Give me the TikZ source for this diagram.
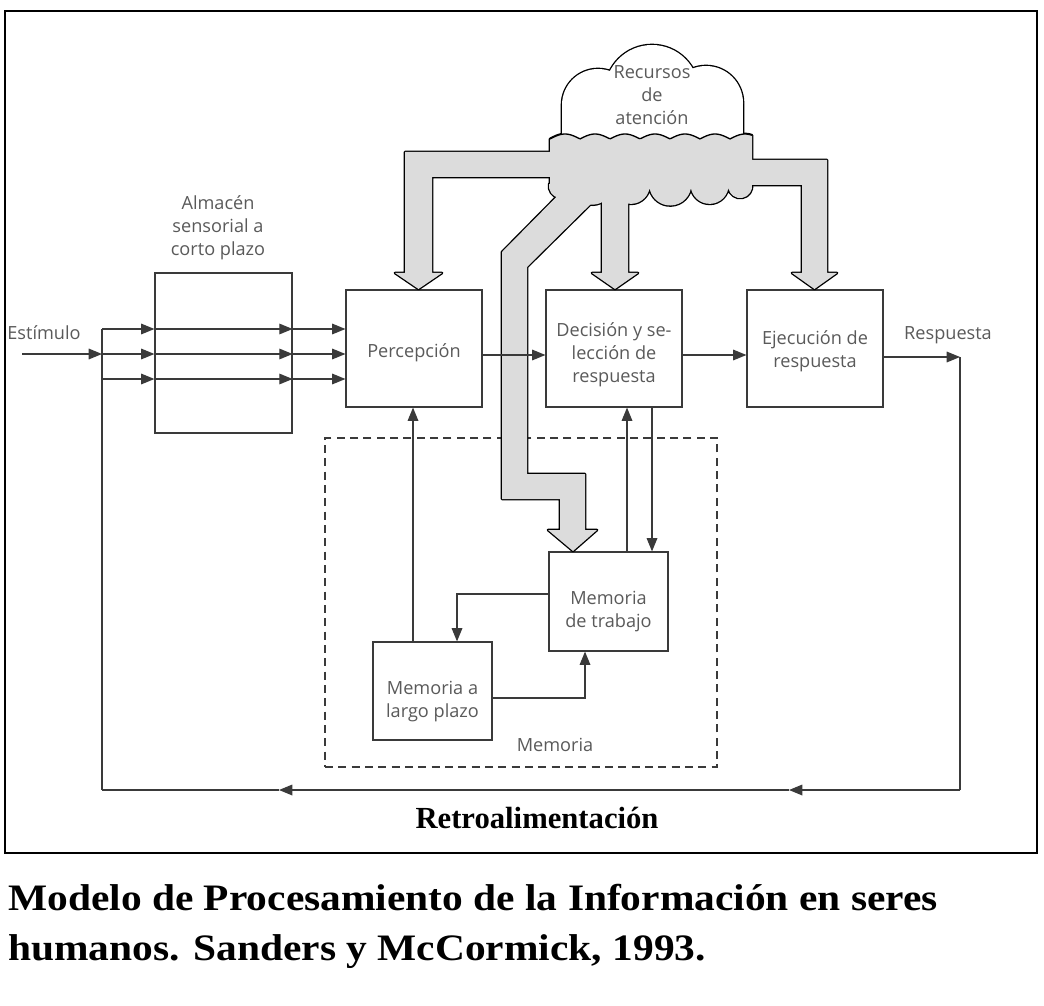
\documentclass[tikz,border=0pt]{standalone}
\usepackage{fontspec}
\setmainfont{Liberation Serif}
\newfontfamily\diagfont{Open Sans}
\usetikzlibrary{arrows.meta,calc}
\definecolor{ink}{HTML}{3A3A3A}
\definecolor{txt}{HTML}{5A5A5A}
\definecolor{bandgrey}{HTML}{DCDCDC}
\begin{document}
\begin{tikzpicture}[x=0.75pt,y=-0.75pt,
  box/.style={draw=ink, line width=0.9pt, inner sep=0pt},
  lbl/.style={align=center, inner sep=0pt, font=\diagfont\fontsize{13.6}{17.4}\selectfont, text=txt},
  conn/.style={draw=ink, line width=0.9pt},
  arr/.style={conn, -{Triangle[length=10pt,width=8pt]}},
  outl/.style={draw=black, line width=2pt, line join=round},
]
\useasboundingbox (0,0) rectangle (1044,1005);
\fill[white] (0,0) rectangle (1044,1005);
\draw[line width=1.6pt] (5,11) rectangle (1037,853);

% boxes
\node[box, minimum width={137*0.75pt}, minimum height={160*0.75pt}] (sens) at (223.5,353) {};
\node[box, minimum width={136*0.75pt}, minimum height={117*0.75pt}] (perc) at (414,348.5) {};
\node[box, minimum width={136*0.75pt}, minimum height={117*0.75pt}] (dec) at (614,348.5) {};
\node[box, minimum width={136*0.75pt}, minimum height={117*0.75pt}] (exe) at (815,348.5) {};
\node[box, minimum width={119*0.75pt}, minimum height={99*0.75pt}] (wm) at (608.5,601.5) {};
\node[box, minimum width={119*0.75pt}, minimum height={98*0.75pt}] (ltm) at (432.5,691) {};
\node[draw=ink, dashed, dash pattern=on 6pt off 4pt, line width=0.8pt, inner sep=0pt,
  minimum width={392*0.75pt}, minimum height={329*0.75pt}] (mem) at (521,602.5) {};

% ---- cloud and thick arrows ----
% pass 1: outlines
\path[outl] (598,105) circle[radius=36] (652,92) circle[radius=47] (706,103) circle[radius=37]
  (562,105) rectangle (743,140);
\path[outl] (550,184) -- plot[domain=550:752,samples=121] (\x,{139-5*abs(sin(6*(\x-550)))}) -- (752,184)
  arc[start angle=-10,end angle=170,radius=12] arc[start angle=10,end angle=170,radius=19]
  arc[start angle=10,end angle=170,radius=21] arc[start angle=10,end angle=170,radius=19]
  arc[start angle=10,end angle=170,radius=20] arc[start angle=10,end angle=190,radius=12] -- cycle;
\path[outl] (580,152) -- (405,152) -- (405,273) -- (395,273) -- (418.5,289) -- (442,273) -- (432,273) -- (432,177) -- (580,177) -- cycle;
\path[outl] (602,180) -- (602,273) -- (592,273) -- (615,289) -- (638,273) -- (628,273) -- (628,180) -- cycle;
\path[outl] (740,160) -- (827,160) -- (827,273) -- (837,273) -- (814.5,289) -- (792,273) -- (802,273) -- (802,185) -- (740,185) -- cycle;
\path[outl] (580,173) -- (502,252) -- (502,499) -- (560,499) -- (560,530) -- (548,530) -- (573,551) -- (597,530) -- (585,530) -- (585,474) -- (527,474) -- (527,267) -- (605,190) -- cycle;
% pass 2: white top
\fill[white] (598,105) circle[radius=36];
\fill[white] (652,92) circle[radius=47];
\fill[white] (706,103) circle[radius=37];
\fill[white] (562,105) rectangle (743,140);
% pass 3: grey part
\fill[bandgrey] (550,184) -- plot[domain=550:752,samples=121] (\x,{139-5*abs(sin(6*(\x-550)))}) -- (752,184)
  arc[start angle=-10,end angle=170,radius=12] arc[start angle=10,end angle=170,radius=19]
  arc[start angle=10,end angle=170,radius=21] arc[start angle=10,end angle=170,radius=19]
  arc[start angle=10,end angle=170,radius=20] arc[start angle=10,end angle=190,radius=12] -- cycle;
\fill[bandgrey] (580,152) -- (405,152) -- (405,273) -- (395,273) -- (418.5,289) -- (442,273) -- (432,273) -- (432,177) -- (580,177) -- cycle;
\fill[bandgrey] (602,180) -- (602,273) -- (592,273) -- (615,289) -- (638,273) -- (628,273) -- (628,180) -- cycle;
\fill[bandgrey] (740,160) -- (827,160) -- (827,273) -- (837,273) -- (814.5,289) -- (792,273) -- (802,273) -- (802,185) -- (740,185) -- cycle;
\fill[bandgrey] (580,173) -- (502,252) -- (502,499) -- (560,499) -- (560,530) -- (548,530) -- (573,551) -- (597,530) -- (585,530) -- (585,474) -- (527,474) -- (527,267) -- (605,190) -- cycle;
% pass 4: scalloped boundary
\draw[black, line width=1pt] plot[domain=550:752,samples=121] (\x,{139-5*abs(sin(6*(\x-550)))});
\node[lbl] (cloud) at (652,95) {Recursos\\de\\atención};

% ---- box texts ----
\node[lbl] (perct) at ($(perc.center)+(0,4.5)$) {Percepción};
\node[lbl] (dect) at ($(dec.center)+(0,6.5)$) {Decisión y se-\\lección de\\respuesta};
\node[lbl] (exet) at ($(exe.center)+(0,3)$) {Ejecución de\\respuesta};
\node[lbl] (wmt) at ($(wm.center)+(0,10)$) {Memoria\\de trabajo};
\node[lbl] (ltmt) at ($(ltm.center)+(0,10.5)$) {Memoria a\\largo plazo};

% ---- coordinates ----
\coordinate (stim) at (22,354);
\coordinate (split) at (102,354);
\coordinate (splitT) at (102,329);
\coordinate (resp) at (960,357);
\coordinate (fbR) at (960,790);
\coordinate (fbA) at (789,790);
\coordinate (fbB) at (279,790);
\coordinate (fbL) at (102,790);

% ---- thin connectors ----
\draw[arr] (stim) -- (split);
\draw[conn] (splitT) -- (fbL);
\foreach \yy in {329,354,379}{
  \draw[arr] (102,\yy) -- (sens.west |- 0,\yy);
  \draw[arr] (sens.west |- 0,\yy) -- (sens.east |- 0,\yy);
  \draw[arr] (sens.east |- 0,\yy) -- (perc.west |- 0,\yy);
}
\draw[arr] (perc.east |- 0,355) -- (dec.west |- 0,355);
\draw[arr] (dec.east |- 0,355) -- (exe.west |- 0,355);
\draw[arr] (exe.east |- resp) -- (resp);
\draw[conn] (resp) -- (fbR);
\draw[arr] (fbR) -- (fbA);
\draw[arr] (fbA) -- (fbB);
\draw[conn] (fbB) -- (fbL);

\draw[arr] (ltm.north -| 413,0) -- (perc.south -| 413,0);
\draw[arr] (wm.north -| 627,0) -- (dec.south -| 627,0);
\draw[arr] (dec.south -| 652,0) -- (wm.north -| 652,0);
\draw[arr] (wm.west |- 0,594) -| (ltm.north -| 457,0);
\draw[arr] (ltm.east |- 0,698) -| (wm.south -| 585,0);

% ---- labels ----
\node[lbl] (senslbl) at (218,228) {Almacén\\sensorial a\\corto plazo};
\node[lbl] (stimlbl) at (44,333) {Estímulo};
\node[lbl] (resplbl) at (948,335) {Respuesta};
\node[lbl] (memlbl) at (555,745) {Memoria};
\node[font=\bfseries\fontsize{23}{26}\selectfont, inner sep=0pt] (fblbl) at (537,818) {Retroalimentación};

% ---- caption ----
\node[anchor=base west, inner sep=0pt, font=\bfseries\fontsize{28}{34}\selectfont] (cap1) at (8,910) {\scalebox{1.11}[1]{Modelo de Procesamiento de la Información en seres}};
\node[anchor=base west, inner sep=0pt, font=\bfseries\fontsize{28}{34}\selectfont] (cap2) at (8,960) {\scalebox{1.11}[1]{humanos. Sanders y McCormick, 1993.}};
\end{tikzpicture}
\end{document}
